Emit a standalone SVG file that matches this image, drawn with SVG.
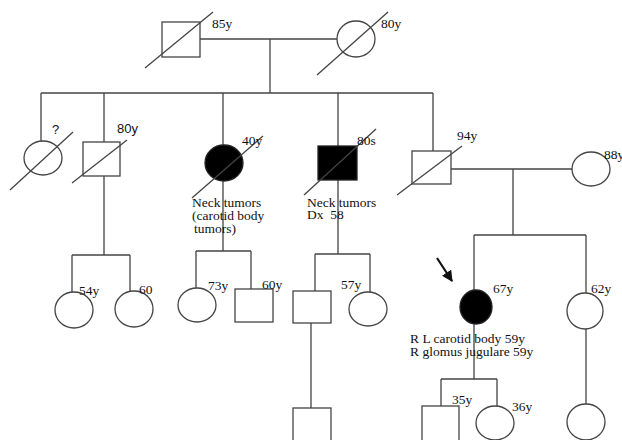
<svg xmlns="http://www.w3.org/2000/svg" width="622" height="440" viewBox="0 0 622 440">
<defs>
<style>
.s{fill:#fff;stroke:#444;stroke-width:1.3}
.f{fill:#000;stroke:#222;stroke-width:1.3}
.l{fill:none;stroke:#444;stroke-width:1.3}
text{font-family:"Liberation Serif","Times New Roman",serif;font-size:13.5px;fill:#111}
.q{font-family:"Liberation Sans",Arial,sans-serif;font-size:13px}
</style>
<marker id="ah" viewBox="0 0 10 10" refX="9" refY="5" markerWidth="5" markerHeight="5" orient="auto"><path d="M0,0 L10,5 L0,10 z" fill="#111"/></marker>
</defs>
<rect width="622" height="440" fill="#fff"/>
<g id="connectors">
<path class="l" d="M200,39 H337 M270,39 V93 M41,93 H433 M41,93 V141 M104,93 V142 M223,93 V145 M338,93 V146 M433,93 V151"/>
<path class="l" d="M104,176 V255 M72,255 H130 M72,255 V292 M130,255 V291"/>
<path class="l" d="M223,181 V251 M196,251 H251 M196,251 V288 M251,251 V289"/>
<path class="l" d="M338,180 V254 M315,254 H370 M315,254 V291 M370,254 V292 M311,323 V408"/>
<path class="l" d="M451,169 H572 M513,169 V235 M474,235 H586 M474,235 V290 M586,235 V293"/>
<path class="l" d="M474,324 V379 M441,379 H497 M441,379 V406 M497,379 V406 M586,329 V404"/>
<path d="M437,258 L452,281" stroke="#111" stroke-width="2.2" marker-end="url(#ah)"/>
</g>
<g id="n-gf">
<rect class="s" x="162" y="22" width="38" height="35"/>
<line class="l" x1="145" y1="68" x2="213" y2="12"/>
<text x="212" y="28">85y</text>
</g>
<g id="n-gm">
<ellipse class="s" cx="356" cy="39" rx="19" ry="18"/>
<line class="l" x1="317" y1="75" x2="388" y2="12"/>
<text x="381" y="28">80y</text>
</g>
<g id="n-q">
<ellipse class="s" cx="43" cy="158" rx="19" ry="17"/>
<line class="l" x1="10" y1="190" x2="73" y2="132"/>
<text class="q" x="52" y="134">?</text>
</g>
<g id="n-80y">
<rect class="s" x="83" y="142" width="37" height="34"/>
<line class="l" x1="72" y1="183" x2="127" y2="140"/>
<text class="q" x="117" y="133">80y</text>
</g>
<g id="n-40y">
<ellipse class="f" cx="224" cy="163" rx="19" ry="18"/>
<line class="l" x1="192" y1="198" x2="263" y2="136"/>
<text x="242" y="145">40y</text>
<text x="192" y="207">Neck tumors</text>
<text x="192" y="220">(carotid body</text>
<text x="194" y="233">tumors)</text>
</g>
<g id="n-80s">
<rect class="f" x="318" y="146" width="39" height="34"/>
<line class="l" x1="304" y1="195" x2="376" y2="129"/>
<text x="357" y="145">80s</text>
<text x="307" y="207">Neck tumors</text>
<text x="307" y="219" xml:space="preserve">Dx  58</text>
</g>
<g id="n-94y">
<rect class="s" x="412" y="151" width="39" height="33"/>
<line class="l" x1="397" y1="195" x2="462" y2="146"/>
<text x="457" y="140">94y</text>
</g>
<g id="n-88y">
<ellipse class="s" cx="591" cy="169" rx="19" ry="17"/>
<text x="604" y="159">88y</text>
</g>
<g id="n-54y">
<ellipse class="s" cx="74" cy="310" rx="19" ry="18"/>
<text x="79" y="295">54y</text>
</g>
<g id="n-60">
<ellipse class="s" cx="134" cy="309" rx="19" ry="18"/>
<text x="139" y="294">60</text>
</g>
<g id="n-73y">
<ellipse class="s" cx="197" cy="305" rx="19" ry="17"/>
<text x="208" y="290">73y</text>
</g>
<g id="n-60y">
<rect class="s" x="235" y="289" width="38" height="33"/>
<text x="262" y="289">60y</text>
</g>
<g id="n-m1">
<rect class="s" x="293" y="291" width="38" height="32"/>
</g>
<g id="n-57y">
<ellipse class="s" cx="368" cy="309" rx="19" ry="17"/>
<text x="341" y="289">57y</text>
</g>
<g id="n-67y">
<ellipse class="f" cx="476" cy="307" rx="16" ry="17"/>
<text x="493" y="293">67y</text>
<text x="410" y="343">R L carotid body 59y</text>
<text x="410" y="356">R glomus jugulare 59y</text>
</g>
<g id="n-62y">
<ellipse class="s" cx="585" cy="311" rx="18" ry="18"/>
<text x="591" y="293">62y</text>
</g>
<g id="n-m2">
<rect class="s" x="293" y="408" width="38" height="36"/>
</g>
<g id="n-35y">
<rect class="s" x="422" y="406" width="37" height="38"/>
<text x="452" y="404">35y</text>
</g>
<g id="n-36y">
<ellipse class="s" cx="495" cy="423" rx="19" ry="17"/>
<text x="512" y="411">36y</text>
</g>
<g id="n-f3">
<ellipse class="s" cx="586" cy="422" rx="19" ry="18"/>
</g>
</svg>
